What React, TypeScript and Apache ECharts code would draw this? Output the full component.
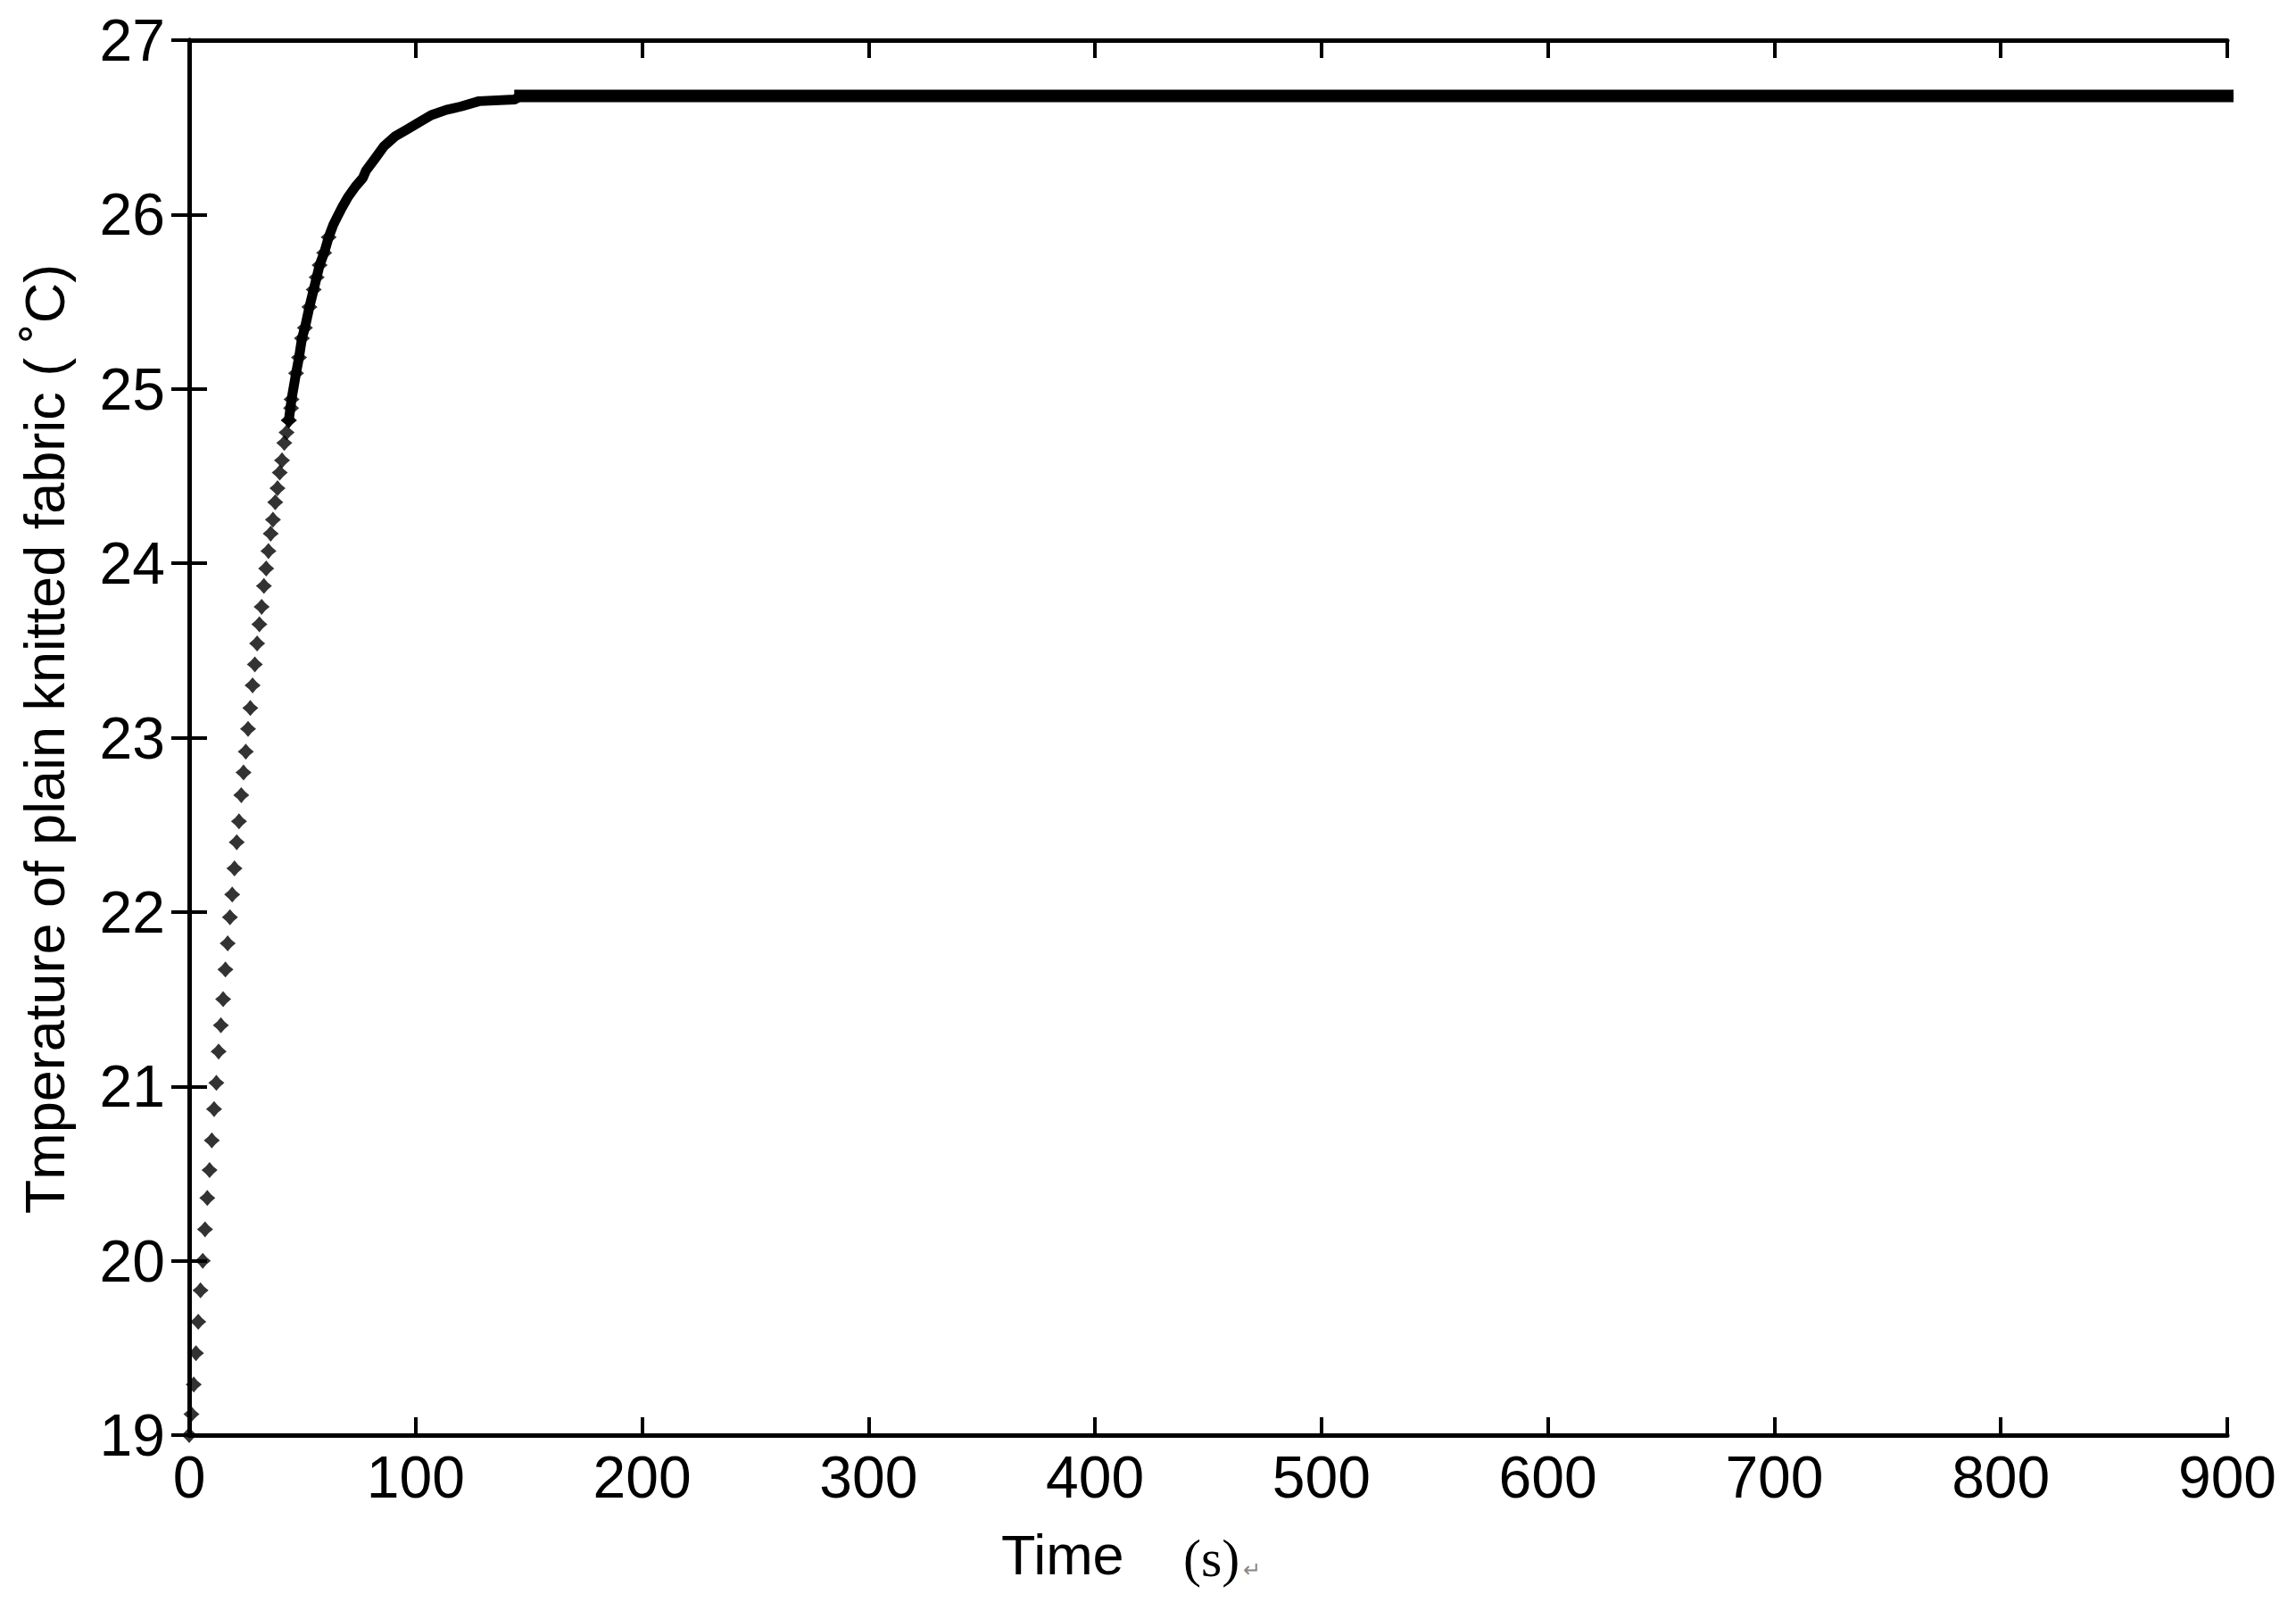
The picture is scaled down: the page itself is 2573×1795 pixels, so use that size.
import React, { useEffect, useRef } from "react";
import * as echarts from "echarts";

// Discrete markers (1 s step)
const EARLY_TIME = [
  0, 1, 2, 3, 4, 5, 6, 7, 8, 9, 10, 11, 12, 13, 14, 15, 16, 17, 18, 19, 20, 21, 22,
  23, 24, 25, 26, 27, 28, 29, 30, 31, 32, 33, 34, 35, 36, 37, 38, 39, 40, 41, 42, 43,
  44, 45,
];
const EARLY_TEMP = [
  19.0, 19.12, 19.29, 19.47, 19.65, 19.83, 20.0, 20.18, 20.36, 20.52, 20.69, 20.87,
  21.02, 21.2, 21.35, 21.5, 21.67, 21.82, 21.97, 22.1, 22.25, 22.4, 22.52, 22.67, 22.8,
  22.92, 23.05, 23.17, 23.3, 23.42, 23.54, 23.65, 23.75, 23.87, 23.97, 24.07, 24.17,
  24.25, 24.35, 24.43, 24.52, 24.59, 24.69, 24.75, 24.82, 24.89,
];

// Dense part where markers merge into a band, read along its centre
const LATE_TIME = [
  44, 45.2, 47.2, 48.5, 49.8, 51.1, 53.1, 55, 56.3, 57.6, 59.6, 61.6, 63.6, 65.5, 67.5,
  70.1, 73.4, 76.7, 78, 82, 85.9, 91.1, 96.4, 101.7, 106.9, 113.5, 120.1, 128, 143.7,
  146.3, 900,
];
const LATE_TEMP = [
  24.82, 24.94, 25.09, 25.18, 25.29, 25.35, 25.47, 25.57, 25.64, 25.71, 25.78, 25.87,
  25.94, 25.99, 26.04, 26.1, 26.16, 26.21, 26.25, 26.32, 26.39, 26.45, 26.49, 26.53,
  26.57, 26.6, 26.62, 26.65, 26.66, 26.68, 26.68,
];

const X_MIN = 0;
const X_MAX = 900;
const X_STEP = 100;
const Y_MIN = 19;
const Y_MAX = 27;
const Y_STEP = 1;
const PLATEAU_START = 146.3;

const Y_TITLE = "Tmperature of plain knitted fabric ( \u02DAC)";
const X_TITLE = "Time";
const X_UNIT = "(s)";

const SANS = '"Liberation Sans", Arial, sans-serif';
const SERIF = '"Liberation Serif", "Times New Roman", serif';

const STAR =
  "path://M0,-10 L4.6,-4.6 L10,0 L4.6,4.6 L0,10 L-4.6,4.6 L-10,0 L-4.6,-4.6 Z";

export default function App() {
  const ref = useRef<HTMLDivElement>(null);

  useEffect(() => {
    if (!ref.current) return;
    const chart = echarts.init(ref.current, undefined, { renderer: "svg" });

    const axisLine = { show: true, lineStyle: { color: "#000", width: 5 } };
    const axisTick = { show: true, inside: true, length: 20, lineStyle: { color: "#000", width: 4 } };
    const label = { color: "#000", fontSize: 66, fontFamily: SANS };

    const late = LATE_TIME.map((t, i) => [t, LATE_TEMP[i]]);
    const lateMarkers = late.filter((p) => p[0] <= 62);
    const rising = late.filter((p) => p[0] <= PLATEAU_START);
    const plateau = late.filter((p) => p[0] >= PLATEAU_START);

    chart.setOption({
      animation: false,
      backgroundColor: "#fff",
      grid: { left: 212, top: 45, right: 77, bottom: 187, containLabel: false },
      xAxis: [
        {
          type: "value", min: X_MIN, max: X_MAX, interval: X_STEP, position: "bottom",
          axisLine, axisTick, axisLabel: { ...label, margin: 14 }, splitLine: { show: false },
        },
        {
          type: "value", min: X_MIN, max: X_MAX, interval: X_STEP, position: "top",
          axisLine, axisTick, axisLabel: { show: false }, splitLine: { show: false },
        },
      ],
      yAxis: [
        {
          type: "value", min: Y_MIN, max: Y_MAX, interval: Y_STEP, position: "left",
          axisLine, axisTick, axisLabel: { ...label, margin: 27 }, splitLine: { show: false },
        },
        {
          type: "value", min: Y_MIN, max: Y_MAX, interval: Y_STEP, position: "right",
          axisLine, axisTick, axisLabel: { show: false }, splitLine: { show: false },
        },
      ],
      series: [
        {
          type: "line",
          data: rising,
          showSymbol: false,
          symbol: "none",
          clip: false,
          lineStyle: { color: "#000", width: 11, cap: "round", join: "round" },
          z: 3,
        },
        {
          type: "line",
          data: plateau,
          showSymbol: false,
          symbol: "none",
          clip: false,
          lineStyle: { color: "#000", width: 14, cap: "square", join: "round" },
          z: 3,
        },
        {
          type: "scatter",
          data: EARLY_TIME.map((t, i) => [t, EARLY_TEMP[i]]).concat(lateMarkers),
          symbol: STAR,
          symbolSize: 18,
          clip: false,
          itemStyle: { color: "#000" },
          z: 4,
        },
      ],
      graphic: [
        {
          type: "text",
          x: 50,
          y: 828,
          rotation: Math.PI / 2,
          style: {
            text: Y_TITLE, fill: "#000", fontSize: 63, fontFamily: SANS,
            align: "center", verticalAlign: "middle",
          },
        },
        {
          type: "text",
          x: 1122,
          y: 1742,
          style: {
            text: X_TITLE, fill: "#000", fontSize: 63, fontFamily: SANS,
            align: "left", verticalAlign: "middle",
          },
        },
        {
          type: "text",
          x: 1326,
          y: 1746,
          style: {
            text: X_UNIT, fill: "#000", fontSize: 60, fontFamily: SERIF,
            align: "left", verticalAlign: "middle",
          },
        },
        {
          type: "text",
          x: 1393,
          y: 1758,
          style: {
            text: "\u21B5", fill: "#888", fontSize: 24, fontFamily: SANS,
            align: "left", verticalAlign: "middle",
          },
        },
      ],
    });

    return () => chart.dispose();
  }, []);

  return (
    <div
      ref={ref}
      style={{ position: "fixed", left: 0, top: 0, width: 2573, height: 1795, background: "#fff" }}
    />
  );
}
